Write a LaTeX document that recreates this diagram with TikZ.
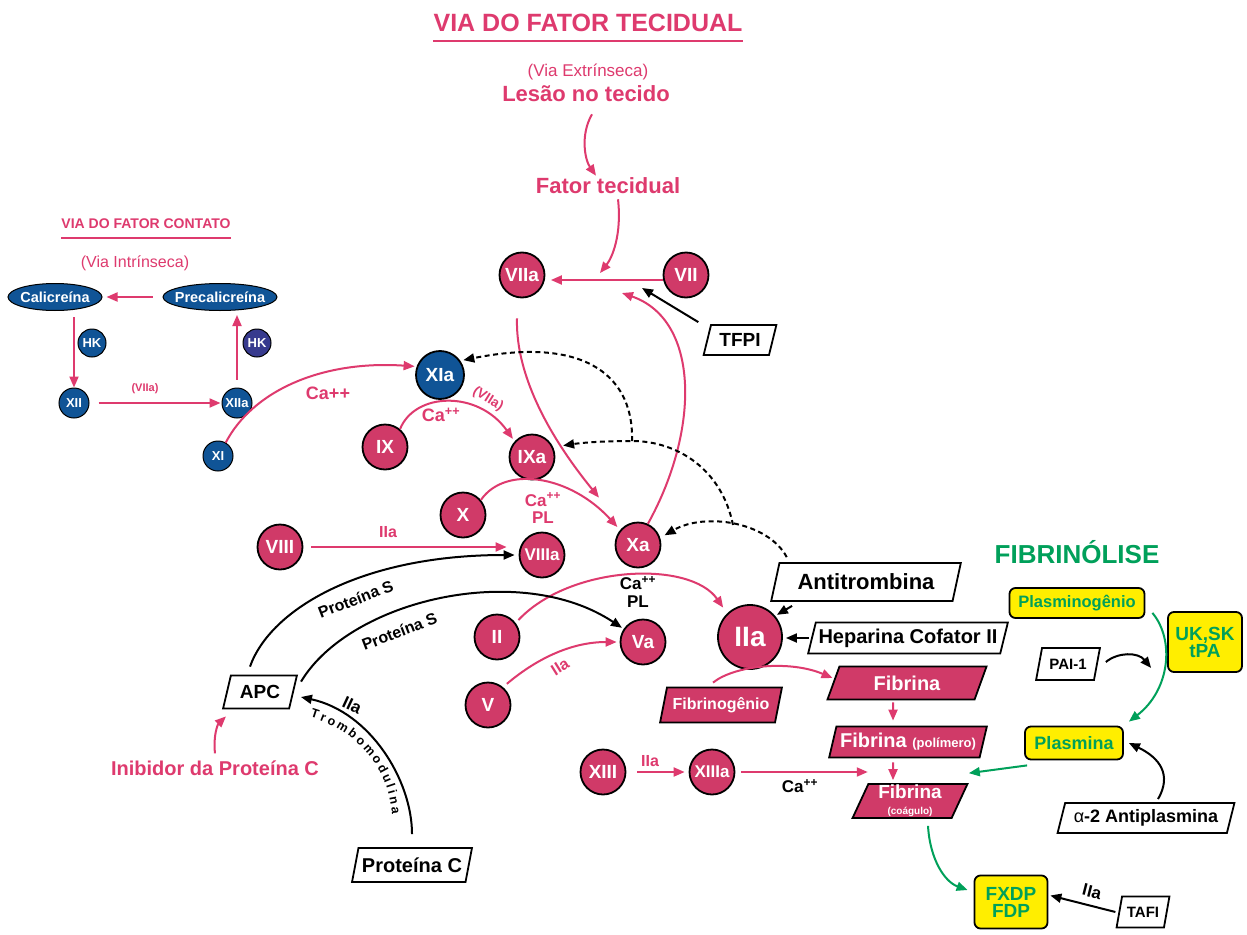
\documentclass[tikz,border=0pt]{standalone}
\usepackage{fontspec}
\setmainfont{Liberation Sans}
\usetikzlibrary{shapes.geometric,arrows.meta,decorations.text}
\definecolor{pinkT}{RGB}{222,58,110}
\definecolor{pinkF}{RGB}{208,58,104}
\definecolor{blueF}{RGB}{16,84,150}
\definecolor{blueD}{RGB}{55,58,142}
\definecolor{greenT}{RGB}{0,160,90}
\definecolor{yellowF}{RGB}{255,238,0}
\newcommand\fsz[1]{\fontsize{#1}{#1}\selectfont}
\newcommand\tmfont{\bfseries\fontsize{12.5}{12.5}\selectfont}
\begin{document}
\begin{tikzpicture}[x=1pt,y=-1pt,
 fc/.style={circle,fill=pinkF,draw=black,line width=1.8pt,minimum size=45pt,inner sep=0pt,text=white,font=\bfseries\fsz{19}},
 bc/.style={circle,fill=blueF,draw=black,line width=1pt,minimum size=30pt,inner sep=0pt,text=white,font=\bfseries\fsz{13}},
 be/.style={ellipse,fill=blueF,draw=black,line width=1pt,inner xsep=-12pt,inner ysep=0pt,text=white,font=\bfseries\fsz{14.5}},
 para/.style={trapezium,trapezium left angle=70,trapezium right angle=110,trapezium stretches=true,draw=black,line width=1.8pt,fill=white,inner sep=1pt,text=black,font=\bfseries},
 ppara/.style={para,fill=pinkF,text=white},
 ybox/.style={rectangle,rounded corners=6pt,fill=yellowF,draw=black,line width=1.8pt,inner sep=1pt,text=greenT,font=\bfseries,align=center},
 ptxt/.style={text=pinkT,font=\bfseries,inner sep=0pt},
 btxt/.style={text=black,font=\bfseries,inner sep=0pt},
 parr/.style={draw=pinkT,line width=2pt,-{Triangle[length=11pt,width=9pt]}},
 barr/.style={draw=black,line width=2pt,-{Triangle[length=11pt,width=9pt]}},
 garr/.style={draw=greenT,line width=2pt,-{Triangle[length=11pt,width=9pt]}},
 darr/.style={draw=black,line width=2pt,dash pattern=on 5pt off 3.5pt,-{Triangle[length=11pt,width=9pt]}},
]
\fill[white] (0,0) rectangle (1247,934);
\useasboundingbox (0,0) rectangle (1247,934);

% ---------- titles ----------
\node[ptxt,font=\bfseries\fsz{25}] (title) at (588,23) {VIA DO FATOR TECIDUAL};
\draw[pinkT,line width=2pt] ([yshift=-9pt]title.south west) -- ([yshift=-9pt]title.south east);
\node[ptxt,font=\fsz{17}] (viaext) at (588,72) {(Via Extrínseca)};
\node[ptxt,font=\bfseries\fsz{22}] (lesao) at (586,94) {Lesão no tecido};
\node[ptxt,font=\bfseries\fsz{22}] (fator) at (608,186) {Fator tecidual};

% ---------- contact pathway ----------
\node[ptxt,font=\bfseries\fsz{14}] (ctitle) at (146,224) {VIA DO FATOR CONTATO};
\draw[pinkT,line width=1.5pt] ([yshift=-9pt]ctitle.south west) -- ([yshift=-9pt]ctitle.south east);
\node[ptxt,font=\fsz{16}] (viaint) at (135,263) {(Via Intrínseca)};
\node[be,minimum width=94pt,minimum height=27pt] (cal) at (55,297) {Calicreína};
\node[be,minimum width=114pt,minimum height=27pt] (precal) at (220,297) {Precalicreína};
\node[bc,minimum size=28pt] (hk1) at (92,343) {HK};
\node[bc,minimum size=28pt,fill=blueD] (hk2) at (257,343) {HK};
\node[bc] (XII) at (74,403) {XII};
\node[bc] (XIIa) at (237,403) {XIIa};
\node[bc] (XI) at (218,456) {XI};

\draw[parr,shorten <=10pt,shorten >=4pt] (precal.west) -- (cal.east);
\draw[parr,shorten <=6pt] (XII.north |- cal.south) -- (XII.north);
\draw[parr,shorten <=8pt,shorten >=4pt] (XIIa.north) -- (XIIa.north |- precal.south);
\draw[parr,shorten <=9pt,shorten >=1pt] (XII.east) -- (XIIa.west);
\node[ptxt,font=\bfseries\fsz{11}] (l1) at (145,389) {(VIIa)};

% ---------- factors ----------
\node[fc] (VIIa) at (522,275) {VIIa};
\node[fc] (VII) at (686,275) {VII};
\node[para,font=\bfseries\fsz{19},minimum width=73pt,minimum height=30pt] (TFPI) at (740,340) {TFPI};
\node[fc,fill=blueF,minimum size=48pt] (XIa) at (440,375) {XIa};
\node[fc] (IX) at (385,447) {IX};
\node[fc] (IXa) at (532,457) {IXa};
\node[fc] (X) at (463,515) {X};
\node[fc] (Xa) at (638,545) {Xa};
\node[fc] (VIII) at (280,547) {VIII};
\node[fc,font=\bfseries\fsz{17}] (VIIIa) at (542,555) {VIIIa};
\node[fc] (II) at (497,637) {II};
\node[fc] (Va) at (643,642) {Va};
\node[fc] (V) at (488,705) {V};
\node[fc,minimum size=64pt,font=\bfseries\fsz{28}] (IIa) at (750,637) {IIa};
\node[fc] (XIII) at (603,772) {XIII};
\node[fc,font=\bfseries\fsz{17}] (XIIIa) at (712,772) {XIIIa};

% ---------- boxes ----------
\node[para,font=\bfseries\fsz{19},minimum width=74pt,minimum height=33pt] (APC) at (260,692) {APC};
\node[para,font=\bfseries\fsz{20},minimum width=120pt,minimum height=34pt] (protC) at (412,865) {Proteína C};
\node[ptxt,font=\bfseries\fsz{20}] (inib) at (215,768) {Inibidor da Proteína C};
\node[para,font=\bfseries\fsz{22},minimum width=190pt,minimum height=38pt] (anti) at (866,582) {Antitrombina};
\node[para,font=\bfseries\fsz{20},minimum width=200pt,minimum height=31pt] (hep) at (908,638) {Heparina Cofator II};
\node[ppara,font=\bfseries\fsz{16},minimum width=122pt,minimum height=35pt] (fbg) at (721,705) {Fibrinogênio};
\node[ppara,font=\bfseries\fsz{20},minimum width=160pt,minimum height=33pt] (fib1) at (907,683) {Fibrina};
\node[ppara,font=\bfseries\fsz{20},minimum width=158pt,minimum height=31pt] (fib2) at (908,742) {Fibrina {\fsz{13}(polímero)}};
\node[ppara,font=\bfseries\fsz{19},minimum width=115pt,minimum height=33pt,align=center] (fib3) at (910,801) {Fibrina\\[-3pt]{\fsz{10}(coágulo)}};

% ---------- fibrinolysis ----------
\node[text=greenT,font=\bfseries\fsz{26},inner sep=0pt] (fibtitle) at (1077,552) {FIBRINÓLISE};
\node[ybox,font=\bfseries\fsz{16.5},minimum width=135pt,minimum height=30pt] (plg) at (1077,603) {Plasminogênio};
\node[ybox,font=\bfseries\fsz{19},minimum width=74pt,minimum height=60pt] (uk) at (1205,642) {UK,SK\\[-2pt]tPA};
\node[para,font=\bfseries\fsz{15},minimum width=64pt,minimum height=32pt] (pai) at (1068,664) {PAI-1};
\node[ybox,font=\bfseries\fsz{18},minimum width=98pt,minimum height=33pt] (plm) at (1074,743) {Plasmina};
\node[para,font=\bfseries\fsz{18},minimum width=177pt,minimum height=30pt] (a2) at (1146,818) {{\mdseries α}-2 Antiplasmina};
\node[ybox,font=\bfseries\fsz{19},minimum width=73pt,minimum height=53pt] (fxdp) at (1011,902) {FXDP\\[-2pt]FDP};
\node[para,font=\bfseries\fsz{15},minimum width=53pt,minimum height=31pt] (tafi) at (1143,912) {TAFI};

% ---------- free ends / junctions ----------
\coordinate (tfarr) at (600,273);
\coordinate (tfpiarr) at (642,288);
\coordinate (xaarr) at (622,293);
\coordinate (J1) at (733,525);
\coordinate (J2) at (632,441);

% ---------- extrinsic connectors ----------
\draw[parr] ([xshift=6pt,yshift=-12pt]lesao.south) .. controls (580,135) and (585,160) .. ([xshift=-12pt,yshift=2pt]fator.north);
\draw[parr] ([xshift=10pt,yshift=-5pt]fator.south) .. controls (622,235) and (612,258) .. (tfarr);
\draw[parr,shorten >=5.5pt] ([yshift=-5pt]VII.west) -- ([yshift=-5pt]VIIa.east);
\draw[barr] ([xshift=-12pt,yshift=2pt]TFPI.top left corner) -- (tfpiarr);
\draw[parr] (Xa.65) .. controls (700,430) and (700,320) .. (xaarr);
\draw[parr,shorten >=38pt] ([xshift=-5pt,yshift=-20pt]VIIa.south) .. controls (515,390) and (570,462) .. (Xa.130);

% ---------- intrinsic / common ----------
\draw[parr,shorten >=2pt] (XI.60) .. controls (252,392) and (320,360) .. (XIa.160);
\node[ptxt,font=\bfseries\fsz{18}] (l2) at (328,393) {Ca++};
\draw[parr,shorten >=3pt] (IX.50) .. controls (415,392) and (478,390) .. (IXa.138);
\node[ptxt,font=\bfseries\fsz{18}] (l3) at (441,415) {Ca\textsuperscript{++}};
\node[ptxt,font=\bfseries\fsz{13.5},rotate=-32] (l4) at (488,399) {(VIIa)};
\draw[parr,shorten >=4pt] (X.40) .. controls (505,465) and (570,475) .. (Xa.140);
\node[ptxt,font=\bfseries\fsz{17},align=center] (l5) at (543,508) {Ca\textsuperscript{++}\\PL};
\draw[parr,shorten <=8pt,shorten >=12pt] (VIII.east) -- (VIII.east -| VIIIa.west);
\node[ptxt,font=\bfseries\fsz{16}] (l6) at (388,532) {IIa};
\draw[parr,shorten <=4pt,shorten >=7pt] (II.37) .. controls (570,565) and (690,560) .. (IIa.134);
\node[btxt,font=\bfseries\fsz{17},align=center] (l7) at (638,592) {Ca\textsuperscript{++}\\[1pt]PL};
\draw[parr,shorten <=5pt,shorten >=3pt] (V.50) .. controls (535,660) and (570,642) .. (Va.180);
\node[ptxt,font=\bfseries\fsz{16},rotate=32] (l8) at (560,667) {IIa};

% ---------- dashed inhibition by antithrombin ----------
\draw[darr,shorten >=5pt] ([xshift=8pt,yshift=5pt]anti.top left corner) .. controls (768,522) and (705,512) .. (Xa.18);
\draw[darr,shorten >=10pt] (J1) .. controls (722,470) and (678,441) .. (J2) .. controls (600,441) and (580,443) .. (IXa.25);
\draw[darr,shorten >=3pt] (J2) .. controls (634,380) and (590,335) .. (XIa.35);

% ---------- protein C system ----------
\draw[barr,shorten >=4pt] ([xshift=-10pt,yshift=8pt]APC.north) .. controls (270,610) and (360,555) .. (VIIIa.west)
  node[sloped,pos=0.56,below=11pt,btxt,font=\bfseries\fsz{16}] {Proteína S};
\draw[barr,shorten >=2pt] ([xshift=3pt,yshift=-7pt]APC.top right corner) .. controls (350,600) and (520,560) .. (Va.146)
  node[sloped,pos=0.36,below=13pt,btxt,font=\bfseries\fsz{16}] {Proteína S};
\draw[barr] ([yshift=13pt]protC.north) .. controls (412,780) and (370,712) .. ([xshift=7pt,yshift=-5pt]APC.east);
\node[btxt,font=\bfseries\fsz{17},rotate=-25] (l9) at (352,705) {IIa};
\path[decorate,decoration={text along path,text align={fit to path},text={|\tmfont|Trombomodulina}}]
  (310,717) .. controls (354,730) and (388,764) .. (392,814);
\draw[parr] ([yshift=7pt]inib.north) .. controls (213,735) and (218,724) .. ([xshift=4pt,yshift=-7pt]APC.bottom left corner);

% ---------- thrombin / fibrin ----------
\draw[barr,shorten >=2pt] ([xshift=22pt,yshift=-4pt]anti.bottom left corner) -- (IIa.40);
\draw[barr,shorten >=3pt] ([xshift=-2pt]hep.west) -- (IIa.east |- hep.west);
\draw[parr] ([xshift=-8pt,yshift=4pt]fbg.north) .. controls (735,665) and (790,660) .. ([yshift=5pt]fib1.west);
\draw[parr,shorten <=2pt,shorten >=5pt] ([xshift=-14pt]fib1.south) -- ([xshift=-15pt]fib2.north);
\draw[parr,shorten <=4pt,shorten >=3pt] ([xshift=-15pt]fib2.south) -- ([xshift=-17pt]fib3.north);
\draw[parr,shorten <=11pt,shorten >=4pt] (XIII.east) -- (XIIIa.west);
\node[ptxt,font=\bfseries\fsz{16}] (l10) at (650,761) {IIa};
\draw[parr,shorten <=6pt] (XIIIa.east) -- (XIIIa.east -| fib3.top left corner);
\node[btxt,font=\bfseries\fsz{17}] (l11) at (800,786) {Ca\textsuperscript{++}};

% ---------- fibrinolysis connectors ----------
\draw[garr] ([xshift=7pt,yshift=6pt]plg.south east) .. controls (1175,640) and (1170,690) .. ([xshift=5pt,yshift=4pt]plm.north east);
\draw[barr] ([xshift=8pt,yshift=2pt]pai.east) .. controls (1118,652) and (1138,652) .. ([xshift=-16pt,yshift=-26pt]uk.west);
\draw[garr] ([xshift=3pt,yshift=-5pt]plm.south west) -- ([yshift=10pt]fib3.top right corner);
\draw[barr] ([xshift=12pt,yshift=3pt]a2.north) .. controls (1172,775) and (1160,758) .. ([xshift=5pt]plm.east);
\draw[garr] ([xshift=18pt,yshift=-7pt]fib3.south) .. controls (930,860) and (945,882) .. ([xshift=-6pt,yshift=12pt]fxdp.west);
\draw[barr,shorten >=2pt] ([xshift=-3pt]tafi.west) -- ([yshift=7pt]fxdp.east)
  node[pos=0.4,sloped,above=7pt,btxt,font=\bfseries\fsz{17}] {IIa};
\end{tikzpicture}
\end{document}
